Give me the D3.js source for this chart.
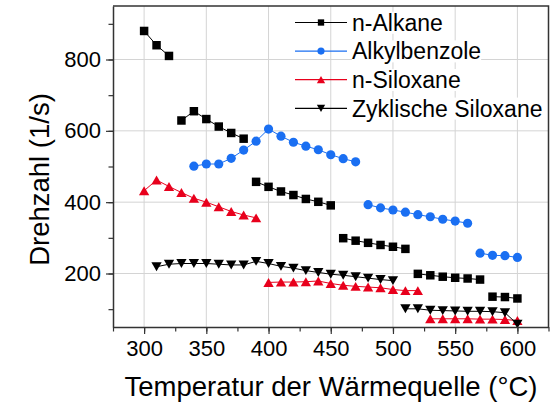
<!DOCTYPE html>
<html>
<head>
<meta charset="utf-8">
<style>
    body { margin: 0; background: #fff; }
    svg { font-family: "Liberation Sans", Arial, sans-serif; }
    .grid line { stroke: #d4d4d4; stroke-width: 1; }
    .axis .domain { stroke: #333; stroke-width: 1.5; }
    .axis .tick line { stroke: #333; stroke-width: 1.2; }
    .axis .tick text { font-size: 22px; fill: #000; }
    .title { font-size: 27.5px; fill: #000; }
    .legend text { font-size: 23px; fill: #000; }
</style>
</head>
<body>
<svg width="556" height="405"></svg>

<script src="https://d3js.org/d3.v7.min.js"></script>
<script>
    // temperatures of the heat source (°C)
    const temps = [300, 310, 320, 330, 340, 350, 360, 370, 380, 390, 400,
        410, 420, 430, 440, 450, 460, 470, 480, 490, 500,
        510, 520, 530, 540, 550, 560, 570, 580, 590, 600]

    // rotational speed (1/s), null = no measurement
    const alkane = [880, 840, 810, 629, 655, 633, 612, 594, 578, 457, 443,
        430, 420, 409, 401, 391, 299, 292, 286, 280, 275,
        269, 199, 195, 191, 188, 186, 183, 135, 134, 130]
    const alkylbenzole = [null, null, null, null, 501, 507, 507, 523, 546, 571, 605,
        585, 568, 557, 547, 533, 522, 513, 393, 384, 378,
        372, 365, 359, 352, 347, 341, 257, 251, 250, 245]
    const siloxane = [432, 462, 444, 427, 411, 400, 387, 374, 364, 356, 175,
        176, 176, 177, 179, 172, 167, 164, 162, 160, 155,
        152, 152, 73, 73, 73, 73, 72, 72, 71, 68]
    const zyklisch = [null, 219, 226, 228, 228, 228, 226, 224, 224, 234, 228,
        220, 215, 208, 203, 198, 195, 191, 187, 183, 180,
        101, 101, 97, 96, 95, 94, 94, 93, 90, 58]

    // temperatures where a new line segment starts
    const alkaneBreaks = [330, 390, 460, 520, 580]
    const alkylBreaks = [480, 570]
    const siloxaneBreaks = [400, 530]
    const zyklischBreaks = [510]

    const seriesNames = ["n-Alkane", "Alkylbenzole", "n-Siloxane", "Zyklische Siloxane"]
    const seriesColors = ["#000000", "#1a6ff2", "#e8001c", "#000000"]

    const xTicks = [300, 350, 400, 450, 500, 550, 600]
    const yTicks = [200, 400, 600, 800]

    const series = [
        { name: seriesNames[0], values: alkane, breaks: alkaneBreaks, symbol: "square" },
        { name: seriesNames[1], values: alkylbenzole, breaks: alkylBreaks, symbol: "circle" },
        { name: seriesNames[2], values: siloxane, breaks: siloxaneBreaks, symbol: "up" },
        { name: seriesNames[3], values: zyklisch, breaks: zyklischBreaks, symbol: "down" }
    ]

    const width = 556
    const height = 405
    const margin = { top: 6, right: 7.5, bottom: 78, left: 113 }

    const svg = d3.select("svg")

    const x = d3.scaleLinear()
        .domain([275, 625])
        .range([margin.left, width - margin.right])

    const y = d3.scaleLinear()
        .domain([50, 950])
        .range([height - margin.bottom, margin.top])

    // grid
    const grid = svg.append("g").attr("class", "grid")
    grid.selectAll(".gx").data(xTicks).join("line")
        .attr("x1", d => x(d)).attr("x2", d => x(d))
        .attr("y1", y.range()[0]).attr("y2", y.range()[1])
    grid.selectAll(".gy").data(yTicks).join("line")
        .attr("y1", d => y(d)).attr("y2", d => y(d))
        .attr("x1", x.range()[0]).attr("x2", x.range()[1])

    // symbols
    const triSize = 46
    const triOff = Math.sqrt(triSize / (Math.sqrt(3) * 3)) / 2
    function symbolPath(kind, big) {
        if (kind === "square") return d3.symbol(d3.symbolSquare, big ? 72 : 40)()
        if (kind === "circle") return d3.symbol(d3.symbolCircle, big ? 66 : 40)()
        return d3.symbol(d3.symbolTriangle, big ? triSize : 30)()
    }
    function symbolTransform(kind, px, py, big) {
        const off = big ? triOff : triOff * 0.8
        if (kind === "up") return `translate(${px},${py + off})`
        if (kind === "down") return `translate(${px},${py - off}) rotate(180)`
        return `translate(${px},${py})`
    }

    const line = d3.line()
        .x(d => x(d.t))
        .y(d => y(d.v))

    series.forEach((s, i) => {
        const color = seriesColors[i]
        const pts = []
        const segments = []
        let current = null
        temps.forEach((t, j) => {
            const v = s.values[j]
            if (v === null) return
            if (current === null || s.breaks.includes(t)) {
                current = []
                segments.push(current)
            }
            current.push({ t, v })
            pts.push({ t, v })
        })

        const g = svg.append("g")
        g.selectAll("path.seg")
            .data(segments)
            .join("path")
            .attr("class", "seg")
            .attr("d", line)
            .attr("fill", "none")
            .attr("stroke", color)
            .attr("stroke-width", 1)

        g.selectAll("path.pt")
            .data(pts)
            .join("path")
            .attr("class", "pt")
            .attr("d", symbolPath(s.symbol, true))
            .attr("transform", d => symbolTransform(s.symbol, x(d.t), y(d.v), true))
            .attr("fill", color)
    })

    // axes
    const xMinor = d3.range(275, 626, 25)
    const yMinor = d3.range(100, 951, 100)

    svg.append("g")
        .attr("class", "axis")
        .attr("transform", `translate(0,${height - margin.bottom})`)
        .call(d3.axisBottom(x).tickValues(xMinor).tickSize(4.5).tickFormat(""))
        .call(g => g.select(".domain").remove())
    svg.append("g")
        .attr("class", "axis")
        .attr("transform", `translate(0,${height - margin.bottom})`)
        .call(d3.axisBottom(x).tickValues(xTicks).tickSize(7).tickPadding(6).tickSizeOuter(0))

    svg.append("g")
        .attr("class", "axis")
        .attr("transform", `translate(${margin.left},0)`)
        .call(d3.axisLeft(y).tickValues(yMinor).tickSize(4.5).tickFormat(""))
        .call(g => g.select(".domain").remove())
    svg.append("g")
        .attr("class", "axis")
        .attr("transform", `translate(${margin.left},0)`)
        .call(d3.axisLeft(y).tickValues(yTicks).tickSize(7).tickPadding(5).tickSizeOuter(0))

    // top and right frame
    svg.append("path")
        .attr("d", `M${x.range()[0]},${y.range()[1]}H${x.range()[1]}V${y.range()[0]}`)
        .attr("fill", "none")
        .attr("stroke", "#333")
        .attr("stroke-width", 1.5)

    // axis titles
    svg.append("text")
        .attr("class", "title")
        .attr("x", 331)
        .attr("y", 396)
        .attr("text-anchor", "middle")
        .text("Temperatur der Wärmequelle (°C)")

    svg.append("text")
        .attr("class", "title")
        .attr("transform", "translate(49,179.5) rotate(-90)")
        .attr("text-anchor", "middle")
        .text("Drehzahl (1/s)")

    // legend
    const legend = svg.append("g").attr("class", "legend")
    const rows = legend.selectAll("g")
        .data(series)
        .join("g")
        .attr("transform", (d, i) => `translate(295,${22.5 + i * 28.6})`)

    rows.append("rect")
        .attr("fill", "#fff")
    rows.append("line")
        .attr("x1", 0).attr("x2", 52)
        .attr("stroke", (d, i) => seriesColors[i])
        .attr("stroke-width", 1.2)
    rows.append("path")
        .attr("d", d => symbolPath(d.symbol, false))
        .attr("transform", d => symbolTransform(d.symbol, 26, 0, false))
        .attr("fill", (d, i) => seriesColors[i])
    rows.append("text")
        .attr("x", 57)
        .attr("dy", "0.36em")
        .text(d => d.name)

    // white box behind each legend label, like the original
    rows.each(function () {
        const row = d3.select(this)
        const bb = row.select("text").node().getBBox()
        row.select("rect")
            .attr("x", bb.x).attr("y", bb.y + 2)
            .attr("width", bb.width).attr("height", bb.height - 4)
    })
</script>
</body>
</html>
